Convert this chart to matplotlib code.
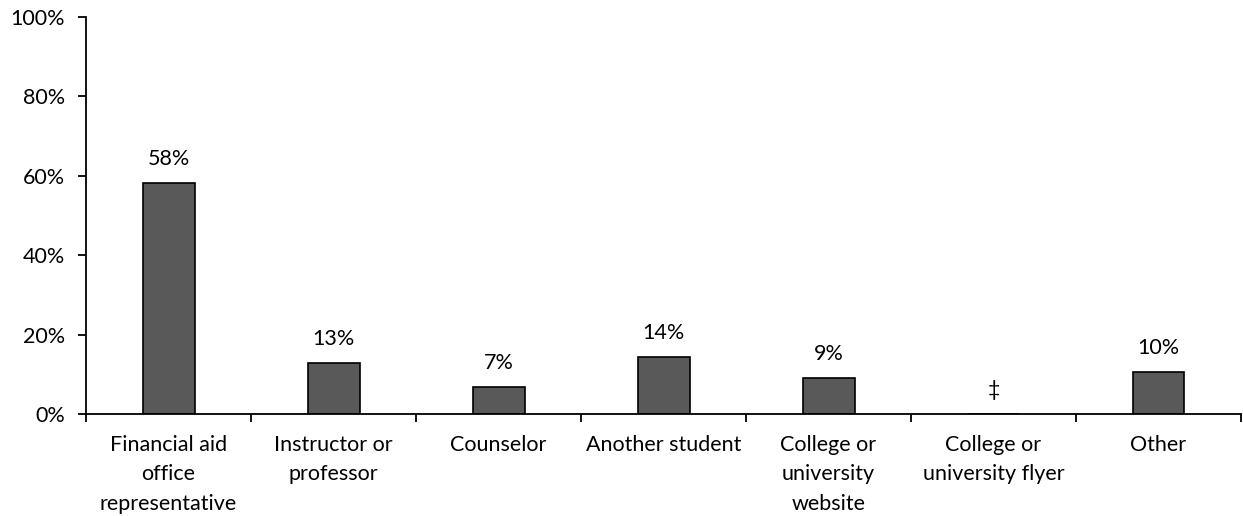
import matplotlib
matplotlib.use("Agg")
import matplotlib.pyplot as plt
import numpy as np

# Data
categories = ["Financial aid\noffice\nrepresentative", "Instructor or\nprofessor",
              "Counselor", "Another student", "College or\nuniversity\nwebsite",
              "College or\nuniversity flyer", "Other"]
values = [58.1, 12.8, 6.8, 14.4, 9.1, np.nan, 10.6]
value_labels = ["58%", "13%", "7%", "14%", "9%", "\u2021", "10%"]
y_ticks = [0, 20, 40, 60, 80, 100]

plt.rcParams['font.family'] = ['Lato', 'DejaVu Sans']

fig = plt.figure(figsize=(12.43, 5.16), dpi=100)
ax = fig.add_axes([0.0692, 0.1977, 0.9292, 0.7693])

x = np.arange(len(categories))
heights = [0 if np.isnan(v) else v for v in values]
ax.bar(x, heights, width=0.315, color="#595959", edgecolor="black", linewidth=1.2)

for xi, h, lab in zip(x, heights, value_labels):
    ax.annotate(lab, (xi, h), xytext=(0, 17.5), textcoords="offset points",
                ha="center", va="center", fontsize=15.5)

ax.set_xlim(-0.5, len(categories) - 0.5)
ax.set_ylim(0, 100)
ax.set_yticks(y_ticks)
ax.set_yticklabels([f"{t}%" for t in y_ticks], fontsize=15.5)

# category labels centered, ticks between categories
ax.set_xticks(x)
ax.set_xticklabels(categories, fontsize=15.5, linespacing=1.6)
ax.tick_params(axis="x", which="major", length=0, pad=15)
ax.set_xticks(np.arange(len(categories) + 1) - 0.5, minor=True)
ax.tick_params(axis="x", which="minor", length=6, width=1.3, direction="out")
ax.tick_params(axis="y", length=6, width=1.3, direction="out", pad=9)

for side in ["top", "right"]:
    ax.spines[side].set_visible(False)
for side in ["left", "bottom"]:
    ax.spines[side].set_linewidth(1.3)

fig.savefig("out.png", dpi=100)
